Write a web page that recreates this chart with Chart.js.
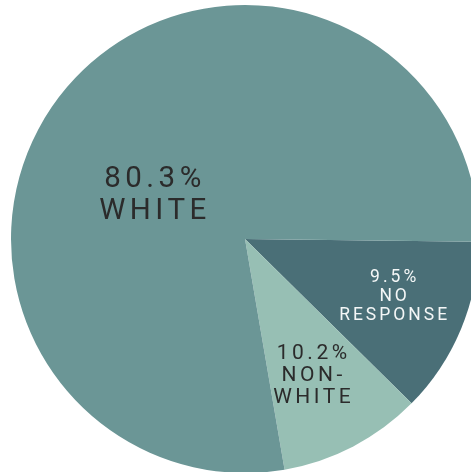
<!DOCTYPE html>
<html>
<head>
<meta charset="utf-8">
<script src="https://cdn.jsdelivr.net/npm/chart.js@4/dist/chart.umd.min.js"></script>
<style>
  html, body { margin: 0; padding: 0; background: #fff; overflow: hidden; }
  #wrap { position: absolute; left: 0; top: 0; width: 490px; height: 478px; }
</style>
</head>
<body>
<div id="wrap"><canvas id="pieChart"></canvas></div>
<script>
// Data
const categories = ["NO RESPONSE", "NON-WHITE", "WHITE"];
// slice sizes as drawn in the picture (share of the circle, %)
const sliceValues = [12.2, 9.9, 77.9];
// percentages printed on the slices
const pctLabels = ["9.5%", "10.2%", "80.3%"];
// label lines under the percentage
const nameLines = [["NO", "RESPONSE"], ["NON-", "WHITE"], ["WHITE"]];

const colors = ["#4a6f77", "#97bfb4", "#6b9696"];

// label placement: angle (deg, clockwise from 3 o'clock), distance as share of radius
const labelStyle = [
  { ang: 21.4, dist: 0.68, size: 17.5, lh: 19, spacing: 3, color: "#f4f7f7" },
  { ang: 63.9, dist: 0.65, size: 21, lh: 22, spacing: 3.5, color: "#2b2b2b" },
  { ang: 205, dist: 0.435, size: 29.5, lh: 32, spacing: 4.5, color: "#2b2b2b" }
];

const sliceLabels = {
  id: "sliceLabels",
  afterDatasetsDraw(chart) {
    const ctx = chart.ctx;
    const meta = chart.getDatasetMeta(0);
    meta.data.forEach((arc, i) => {
      const st = labelStyle[i];
      const a = st.ang * Math.PI / 180;
      const cx = arc.x + Math.cos(a) * arc.outerRadius * st.dist;
      const cy = arc.y + Math.sin(a) * arc.outerRadius * st.dist;
      const lines = [pctLabels[i]].concat(nameLines[i]);
      const top = cy - (lines.length - 1) * st.lh / 2;
      ctx.save();
      ctx.font = st.size + "px Roboto";
      ctx.letterSpacing = st.spacing + "px";
      ctx.fillStyle = st.color;
      ctx.textAlign = "center";
      ctx.textBaseline = "middle";
      lines.forEach((t, j) => {
        ctx.fillText(t, cx + st.spacing / 2, top + j * st.lh);
      });
      ctx.restore();
    });
  }
};

const ctx = document.getElementById("pieChart").getContext("2d");

new Chart(ctx, {
  type: "pie",
  data: {
    labels: categories,
    datasets: [{
      data: sliceValues,
      backgroundColor: colors,
      borderWidth: 0
    }]
  },
  options: {
    responsive: true,
    maintainAspectRatio: false,
    animation: false,
    rotation: 90.7,
    layout: { padding: { left: 11, top: 5, right: 11, bottom: 5 } },
    plugins: {
      legend: { display: false },
      tooltip: { enabled: false }
    }
  },
  plugins: [sliceLabels]
});
</script>
</body>
</html>
